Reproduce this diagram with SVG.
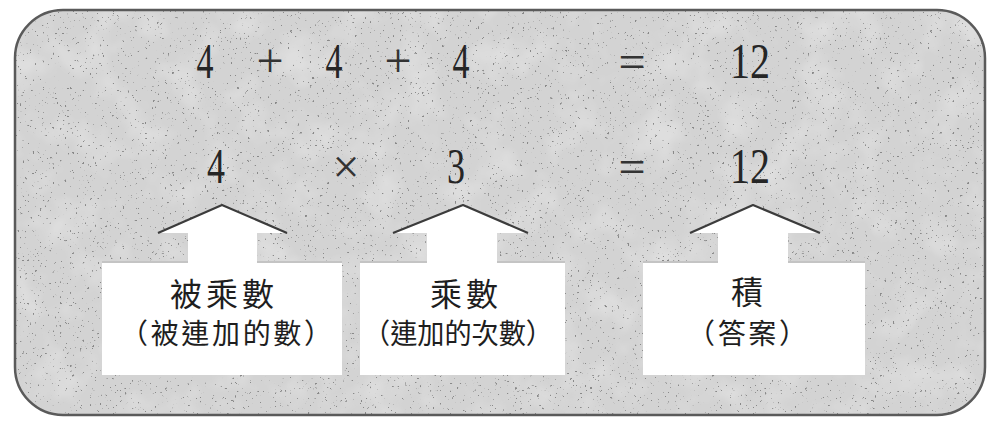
<svg xmlns="http://www.w3.org/2000/svg" width="994" height="428" viewBox="0 0 994 428">
<style>
.num{font-family:"Liberation Serif","DejaVu Serif",serif;font-size:50px;fill:#262626;text-anchor:middle}
.op{font-family:"Liberation Serif","DejaVu Serif",serif;font-size:48px;fill:#333333;text-anchor:middle}
.t1{font-family:"Noto Sans CJK TC","Noto Sans CJK SC",sans-serif;font-size:32px;fill:#1e1e1e;text-anchor:middle;letter-spacing:4px}
.t2{font-family:"Noto Sans CJK TC","Noto Sans CJK SC",sans-serif;font-size:28px;fill:#1e1e1e;text-anchor:middle}
.box{fill:#ffffff}
.arrow{fill:#ffffff}
.edge{fill:none;stroke:#3c3c3c;stroke-width:2.2;stroke-linejoin:round}
.faint{fill:none;stroke:#8a8a8a;stroke-width:1.2}
</style>
<defs>
<clipPath id="panelClip"><rect x="15" y="10" width="970" height="405" rx="48" ry="48"/></clipPath>
<filter id="speck" x="0" y="0" width="100%" height="100%" filterUnits="userSpaceOnUse">
<feTurbulence type="fractalNoise" baseFrequency="0.4" numOctaves="2" seed="7" result="n"/>
<feColorMatrix in="n" type="matrix" values="0 0 0 0 0.25  0 0 0 0 0.25  0 0 0 0 0.25  16 0 0 0 -11.2"/>
</filter>
<filter id="mottle" x="0" y="0" width="100%" height="100%" filterUnits="userSpaceOnUse">
<feTurbulence type="fractalNoise" baseFrequency="0.025" numOctaves="3" seed="2" result="m"/>
<feColorMatrix in="m" type="matrix" values="0 0 0 0 1  0 0 0 0 1  0 0 0 0 1  2.5 0 0 0 -1.1"/>
</filter>
</defs>

<g id="panel">
<rect x="15" y="10" width="970" height="405" rx="48" ry="48" fill="#d3d3d3"/>
<g clip-path="url(#panelClip)">
<rect x="15" y="10" width="970" height="405" filter="url(#mottle)" opacity="0.25"/>
<rect x="15" y="10" width="970" height="405" filter="url(#speck)"/>
</g>
<rect x="15" y="10" width="970" height="405" rx="48" ry="48" fill="none" stroke="#5a5a5a" stroke-width="2.5"/>
</g>

<g id="equation-add">
<text class="num" x="205" y="78" textLength="17" lengthAdjust="spacingAndGlyphs">4</text>
<text class="op" x="270" y="77">+</text>
<text class="num" x="334" y="78" textLength="17" lengthAdjust="spacingAndGlyphs">4</text>
<text class="op" x="398" y="77">+</text>
<text class="num" x="461" y="78" textLength="17" lengthAdjust="spacingAndGlyphs">4</text>
<text class="op" x="632" y="78">=</text>
<text class="num" x="750" y="78" textLength="40" lengthAdjust="spacingAndGlyphs">12</text>
</g>

<g id="equation-mul">
<text class="num" x="216" y="183" textLength="18" lengthAdjust="spacingAndGlyphs">4</text>
<text class="op" x="346" y="183">×</text>
<text class="num" x="456" y="183" textLength="18" lengthAdjust="spacingAndGlyphs">3</text>
<text class="op" x="632" y="183">=</text>
<text class="num" x="750" y="183" textLength="40" lengthAdjust="spacingAndGlyphs">12</text>
</g>

<g id="connectors">
<polygon class="arrow" points="222,205 287,233 257,233 257,263 188,263 188,233 158,233"/>
<polyline class="edge" points="158,233 222,205 287,233"/>
<polygon class="arrow" points="463,205 528,233 497,233 497,263 427,263 427,233 393,233"/>
<polyline class="edge" points="393,233 463,205 528,233"/>
<polygon class="arrow" points="753,205 820,233 788,233 788,263 718,263 718,233 690,233"/>
<polyline class="edge" points="690,233 753,205 820,233"/>
</g>

<g id="node-multiplicand">
<rect class="box" x="102" y="261" width="240" height="114"/>
<polyline class="faint" points="102,262 188,262"/>
<polyline class="faint" points="257,262 342,262"/>
<text class="t1" x="224" y="306">被乘數</text>
<text class="t2" x="226" y="344" textLength="212" lengthAdjust="spacing">（被連加的數）</text>
</g>

<g id="node-multiplier">
<rect class="box" x="360" y="261" width="205" height="114"/>
<polyline class="faint" points="360,262 427,262"/>
<polyline class="faint" points="497,262 565,262"/>
<text class="t1" x="466" y="306">乘數</text>
<text class="t2" x="458" y="344" textLength="190" lengthAdjust="spacingAndGlyphs">（連加的次數）</text>
</g>

<g id="node-product">
<rect class="box" x="643" y="261" width="222" height="114"/>
<polyline class="faint" points="643,262 718,262"/>
<polyline class="faint" points="788,262 865,262"/>
<text class="t1" x="749" y="304">積</text>
<text class="t2" x="747" y="344" textLength="120" lengthAdjust="spacing">（答案）</text>
</g>
</svg>
